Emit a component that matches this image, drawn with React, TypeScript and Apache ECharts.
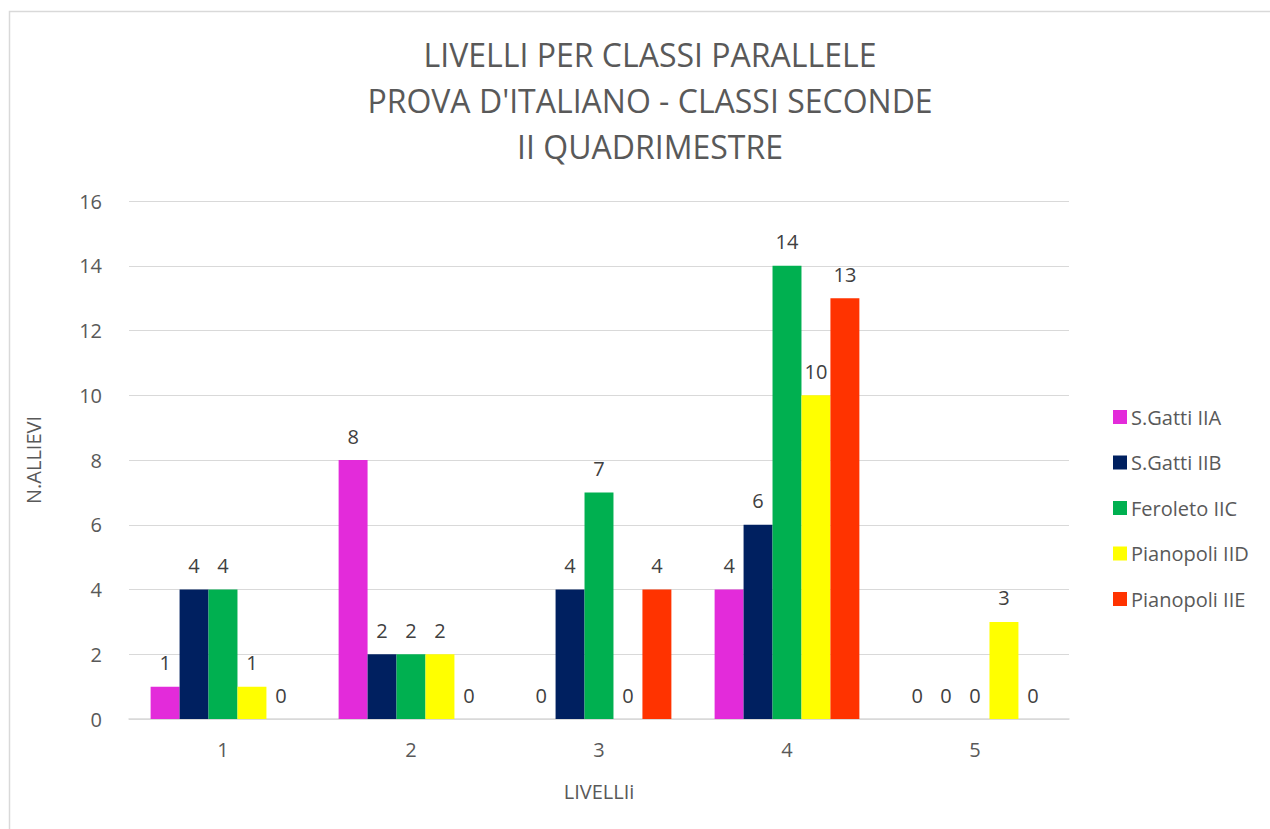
import React, { useEffect, useRef } from "react";
import * as echarts from "echarts";

const categories = ["1", "2", "3", "4", "5"];
const seriesNames = ["S.Gatti IIA", "S.Gatti IIB", "Feroleto IIC", "Pianopoli IID", "Pianopoli IIE"];
const gattiA = [1, 8, 0, 4, 0];
const gattiB = [4, 2, 4, 6, 0];
const feroletoC = [4, 2, 7, 14, 0];
const pianopoliD = [1, 2, 0, 10, 3];
const pianopoliE = [0, 0, 4, 13, 0];
const colors = ["#E32BDA", "#002060", "#00B050", "#FFFF00", "#FF3300"];
const titleLines = ["LIVELLI PER CLASSI PARALLELE", "PROVA D'ITALIANO - CLASSI SECONDE", "II QUADRIMESTRE"];

const FONT = "'Open Sans', Lato, sans-serif";

export default function App() {
  const ref = useRef<HTMLDivElement>(null);
  useEffect(() => {
    const chart = echarts.init(ref.current!, null, { renderer: "svg" });
    const values = [gattiA, gattiB, feroletoC, pianopoliD, pianopoliE];
    chart.setOption({
      animation: false,
      backgroundColor: "#ffffff",
      textStyle: { fontFamily: FONT },
      graphic: [
        {
          type: "rect",
          shape: { x: 9.5, y: 11.5, width: 1400, height: 1000 },
          style: { fill: "none", stroke: "#d9d9d9", lineWidth: 1.5 },
          silent: true,
        },
      ],
      title: {
        text: titleLines.join("\n"),
        left: 645,
        textAlign: "center",
        top: 26,
        textStyle: { fontFamily: FONT, fontSize: 32, fontWeight: "normal", color: "#595959", lineHeight: 46 },
      },
      legend: {
        orient: "vertical",
        left: 1108,
        top: 402,
        itemGap: 25.5,
        itemWidth: 14,
        itemHeight: 14,
        icon: "rect",
        data: seriesNames,
        textStyle: { fontFamily: FONT, fontSize: 20, color: "#595959", padding: [0, 0, 0, -1] },
      },
      grid: { left: 129, right: 201, top: 201, bottom: 110, containLabel: false },
      xAxis: {
        type: "category",
        data: categories,
        name: "LIVELLIi",
        nameLocation: "middle",
        nameGap: 62,
        nameTextStyle: { fontFamily: FONT, fontSize: 20, color: "#595959" },
        axisTick: { show: false },
        axisLine: { lineStyle: { color: "#d9d9d9", width: 1.5 } },
        axisLabel: { fontFamily: FONT, fontSize: 20, color: "#595959", margin: 20 },
      },
      yAxis: {
        type: "value",
        min: 0,
        max: 16,
        interval: 2,
        name: "N.ALLIEVI",
        nameLocation: "middle",
        nameGap: 86,
        nameTextStyle: { fontFamily: FONT, fontSize: 20, color: "#595959" },
        axisLine: { show: false },
        axisTick: { show: false },
        splitLine: { lineStyle: { color: "#d9d9d9", width: 1 } },
        axisLabel: { fontFamily: FONT, fontSize: 20, color: "#595959", margin: 27 },
      },
      series: seriesNames.map((name, i) => ({
        name,
        type: "bar",
        data: values[i],
        barGap: "0%",
        barCategoryGap: "23%",
        itemStyle: { color: colors[i] },
        label: {
          show: true,
          position: "top",
          distance: 14,
          fontFamily: FONT,
          fontSize: 20,
          color: "#404040",
        },
      })),
    });
    return () => chart.dispose();
  }, []);
  return (
    <div
      ref={ref}
      style={{ position: "fixed", left: 0, top: 0, width: 1270, height: 829 }}
    />
  );
}
